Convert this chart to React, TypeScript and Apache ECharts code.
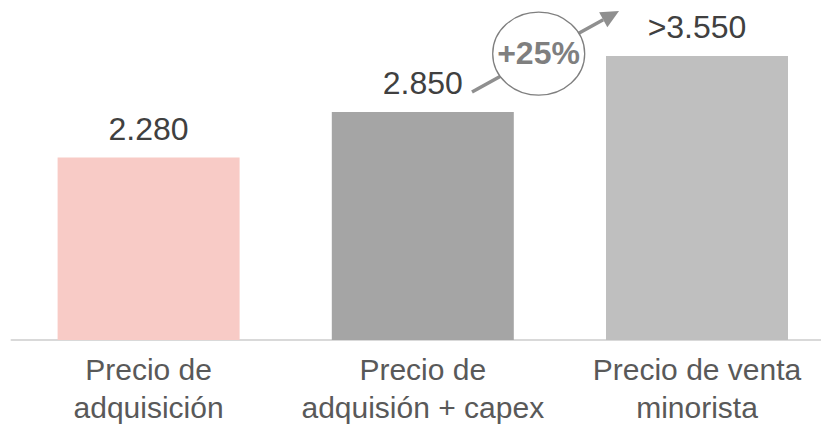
import React, { useEffect, useRef } from "react";
import * as echarts from "echarts";

// Price steps per unit
const categories = ["Precio de\nadquisición", "Precio de\nadquisión + capex", "Precio de venta\nminorista"];
const values = [2280, 2850, 3550];
const valuePrefixes = ["", "", ">"];
const barColors = ["#f8cbc6", "#a5a5a5", "#bfbfbf"];
const growthLabel = "+25%";

const FONT = "'Liberation Sans', Arial, Helvetica, sans-serif";

const formatThousands = (v: number) =>
  String(v).replace(/\B(?=(\d{3})+(?!\d))/g, ".");

export default function App() {
  const ref = useRef<HTMLDivElement>(null);

  useEffect(() => {
    if (!ref.current) return;
    const chart = echarts.init(ref.current, null, { renderer: "svg" });

    // Arrow geometry for the growth callout
    const tip = [619, 11];
    const start = [472, 92];
    const dx = tip[0] - start[0];
    const dy = tip[1] - start[1];
    const len = Math.hypot(dx, dy);
    const ux = dx / len;
    const uy = dy / len;
    const headLen = 18;
    const headHalf = 8.5;
    const base = [tip[0] - headLen * ux, tip[1] - headLen * uy];
    const px = -uy;
    const py = ux;

    chart.setOption({
      animation: false,
      backgroundColor: "#ffffff",
      // the canvas is a little wider than the viewport, so the last band is cut at the edge
      grid: { left: 11.5, width: 822.6, top: 20, bottom: 94 },
      xAxis: {
        type: "category",
        data: categories,
        axisTick: { show: false },
        axisLine: { show: true, lineStyle: { color: "#d9d9d9", width: 2 } },
        axisLabel: {
          color: "#595959",
          fontSize: 30,
          lineHeight: 38,
          fontFamily: FONT,
          margin: 10,
          interval: 0,
        },
      },
      yAxis: {
        type: "value",
        min: 0,
        max: 4000,
        show: false,
        splitLine: { show: false },
      },
      series: [
        {
          type: "bar",
          barWidth: 182,
          data: values.map((v, i) => ({
            value: v,
            itemStyle: { color: barColors[i] },
          })),
          label: {
            show: true,
            position: "top",
            distance: 13,
            color: "#404040",
            fontSize: 32,
            fontFamily: FONT,
            formatter: (p: any) => valuePrefixes[p.dataIndex] + formatThousands(p.value),
          },
        },
      ],
      graphic: [
        {
          type: "line",
          z: 10,
          shape: { x1: start[0], y1: start[1], x2: base[0], y2: base[1] },
          style: { stroke: "#8f8f8f", lineWidth: 3.5 },
        },
        {
          type: "polygon",
          z: 10,
          shape: {
            points: [
              tip,
              [base[0] + headHalf * px, base[1] + headHalf * py],
              [base[0] - headHalf * px, base[1] - headHalf * py],
            ],
          },
          style: { fill: "#8f8f8f" },
        },
        {
          type: "ellipse",
          z: 11,
          shape: { cx: 538.7, cy: 53.7, rx: 46, ry: 41.5 },
          style: { fill: "#ffffff", stroke: "#7f7f7f", lineWidth: 1.3 },
        },
        {
          type: "text",
          z: 12,
          x: 538.5,
          y: 53,
          style: {
            text: growthLabel,
            fill: "#7f7f7f",
            fontSize: 32,
            fontWeight: "bold",
            fontFamily: FONT,
            align: "center",
            verticalAlign: "middle",
          },
        },
      ],
    });

    return () => chart.dispose();
  }, []);

  return (
    <div style={{ position: "fixed", left: 0, top: 0, width: 821, height: 434, overflow: "hidden" }}>
      <div ref={ref} style={{ width: 836, height: 434 }} />
    </div>
  );
}
